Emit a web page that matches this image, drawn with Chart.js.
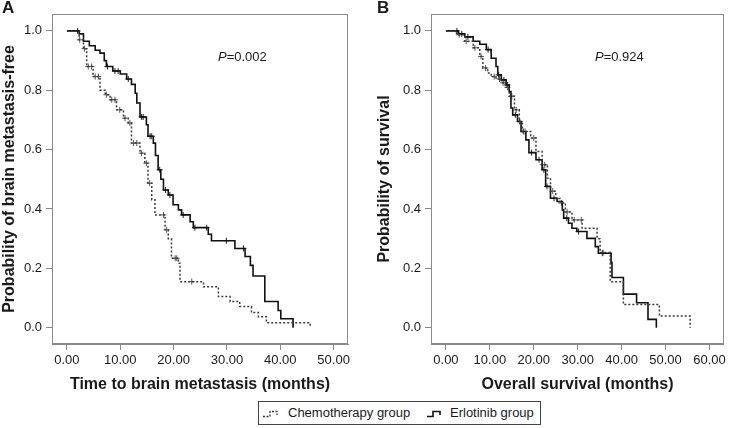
<!DOCTYPE html>
<html>
<head>
<meta charset="utf-8">
<script src="https://cdn.jsdelivr.net/npm/chart.js@4.4.1/dist/chart.umd.min.js"></script>
<style>
body { margin: 0; background: #fff; font-family: 'Liberation Sans', Arial, sans-serif; color: #1a1a1a; }
#wrap { position: relative; width: 729px; height: 428px; overflow: hidden; }
canvas { position: absolute; top: 0; }
.lbl { position: absolute; top: -1px; font-weight: bold; font-size: 17px; line-height: 17px; }
.pval { position: absolute; top: 50px; font-size: 13px; line-height: 14px; }
#legend { position: absolute; left: 258px; top: 401px; width: 281px; height: 22px; border: 1px solid #444;
  font-size: 13px; line-height: 22px; white-space: nowrap; }
#legend span.item { position: absolute; top: 0; }
#legend svg { vertical-align: middle; margin-right: 6px; }
</style>
</head>
<body>
<div id="wrap">
  <canvas id="chartA" width="360" height="394" style="left:0;width:360px;height:394px"></canvas>
  <canvas id="chartB" width="354" height="394" style="left:375px;width:354px;height:394px"></canvas>
  <div class="lbl" style="left:2px">A</div>
  <div class="lbl" style="left:377px">B</div>
  <div class="pval" style="left:218px"><i>P</i>=0.002</div>
  <div class="pval" style="left:595px"><i>P</i>=0.924</div>
  <div id="legend">
    <span class="item" style="left:3px"><svg width="20" height="8"><path d="M1 6.5 H8 V1.5 H15 V5" stroke="#333" stroke-width="1.3" stroke-dasharray="2,1.5" fill="none"/></svg>Chemotherapy group</span>
    <span class="item" style="left:167px"><svg width="18" height="8"><path d="M1 6.5 H7 V1.5 H14 V5" stroke="#111" stroke-width="1.6" fill="none"/></svg>Erlotinib group</span>
  </div>
</div>
<script>
// axis ticks
const yTicks = [0, 0.2, 0.4, 0.6, 0.8, 1.0];
const xTicksA = [0, 10, 20, 30, 40, 50];
const xTicksB = [0, 10, 20, 30, 40, 50, 60];
const seriesNames = ['Chemotherapy group', 'Erlotinib group'];

// Panel A - time to brain metastasis (step times and survival after each step)
const chemoA_t = [0, 2.3, 3.1, 3.7, 4.9, 6.2, 7.2, 8.1, 9.3, 10.6, 11.5, 12.1, 13.7, 14.6, 15.2, 15.9, 16.5, 18.4, 19.0, 19.6, 20.9, 21.2, 25.6, 28.4, 30.6, 32.4, 34.6, 35.9, 37.4, 45.6];
const chemoA_s = [1.0, 0.97, 0.94, 0.88, 0.846, 0.80, 0.785, 0.768, 0.734, 0.706, 0.69, 0.622, 0.588, 0.554, 0.487, 0.431, 0.38, 0.33, 0.30, 0.234, 0.217, 0.155, 0.138, 0.105, 0.088, 0.071, 0.051, 0.037, 0.017, 0.0];
const chemoA_cens = [2.4, 3.3, 4.0, 4.6, 5.3, 5.9, 7.4, 8.4, 9.0, 9.9, 10.9, 11.8, 12.5, 13.1, 14.0, 14.9, 15.5, 18.1, 18.7, 20.3, 20.6, 23.4];
const erloA_t = [0, 2.3, 3.1, 4.2, 5.3, 6.2, 7.0, 7.4, 8.6, 10.0, 11.2, 12.1, 12.8, 13.1, 13.7, 14.9, 15.2, 16.2, 16.6, 17.1, 17.6, 18.1, 19.0, 19.9, 20.9, 21.5, 23.1, 23.7, 26.5, 27.1, 31.5, 33.4, 34.4, 34.9, 37.1, 39.6, 40.1, 42.4];
const erloA_s = [1.0, 0.99, 0.965, 0.95, 0.935, 0.925, 0.90, 0.88, 0.865, 0.855, 0.838, 0.82, 0.79, 0.757, 0.71, 0.684, 0.645, 0.622, 0.58, 0.532, 0.50, 0.464, 0.447, 0.414, 0.397, 0.38, 0.357, 0.337, 0.315, 0.293, 0.267, 0.24, 0.21, 0.174, 0.088, 0.058, 0.03, 0.0];
const erloA_cens = [2.0, 7.6, 9.0, 9.6, 11.5, 14.0, 14.3, 15.6, 15.9, 17.4, 18.5, 19.3, 21.8, 24.0, 26.2, 29.9, 33.1];

// Panel B - overall survival
const chemoB_t = [0, 2.4, 4.3, 6.2, 7.7, 8.4, 9.5, 10.3, 11.4, 12.6, 13.5, 14.4, 15.6, 16.7, 17.4, 19.3, 20.5, 21.9, 23.1, 23.8, 25.0, 26.0, 27.2, 28.7, 31.0, 34.4, 35.1, 37.4, 40.4, 48.6, 55.6];
const chemoB_s = [1.0, 0.987, 0.965, 0.943, 0.914, 0.875, 0.858, 0.846, 0.838, 0.825, 0.81, 0.78, 0.734, 0.695, 0.661, 0.639, 0.594, 0.549, 0.504, 0.46, 0.435, 0.42, 0.39, 0.363, 0.335, 0.30, 0.253, 0.155, 0.078, 0.039, 0.0];
const chemoB_cens = [3.0, 4.6, 6.6, 8.0, 9.0, 11.0, 12.2, 13.0, 14.0, 15.0, 16.0, 18.0, 20.0, 22.0, 22.5, 24.3, 26.3, 27.6, 29.2, 30.8, 35.8];
const erloB_t = [0, 2.8, 4.3, 6.2, 7.7, 9.2, 10.3, 11.4, 11.8, 12.6, 13.7, 14.4, 14.8, 15.2, 16.3, 17.1, 18.2, 18.9, 20.5, 21.9, 22.7, 23.8, 25.3, 26.5, 26.8, 27.9, 28.7, 29.8, 32.1, 34.0, 34.7, 37.6, 37.8, 40.4, 43.4, 46.0, 47.9];
const erloB_s = [1.0, 0.99, 0.98, 0.965, 0.955, 0.937, 0.908, 0.88, 0.852, 0.835, 0.818, 0.796, 0.74, 0.717, 0.695, 0.661, 0.633, 0.59, 0.566, 0.532, 0.476, 0.436, 0.425, 0.397, 0.369, 0.352, 0.335, 0.324, 0.301, 0.273, 0.251, 0.22, 0.169, 0.113, 0.084, 0.028, 0.0];
const erloB_cens = [2.5, 3.6, 5.0, 9.6, 12.0, 13.2, 14.0, 15.8, 16.8, 17.6, 19.5, 21.2, 22.3, 23.0, 24.6, 27.5, 30.2, 35.6];

function stepPoints(t, s) {
  return t.map((x, i) => ({ x: x, y: s[i] }));
}
function censorPoints(t, s, cens) {
  return cens.map(c => {
    let v = s[0];
    for (let i = 0; i < t.length; i++) if (t[i] <= c) v = s[i];
    return { x: c, y: v };
  });
}

const framePlugin = {
  id: 'frame',
  afterDraw(chart) {
    const { ctx, chartArea: a } = chart;
    ctx.save();
    ctx.strokeStyle = '#8a8a8a';
    ctx.lineWidth = 1;
    ctx.strokeRect(Math.round(a.left) + 0.5, Math.round(a.top) + 0.5,
      Math.round(a.right - a.left) - 1, Math.round(a.bottom - a.top) - 1);
    ctx.restore();
  }
};

function makeChart(id, o) {
  const font = { family: "'Liberation Sans', Arial, sans-serif", size: 13 };
  return new Chart(document.getElementById(id), {
    type: 'line',
    data: {
      datasets: [
        { label: seriesNames[0], data: stepPoints(o.chemoT, o.chemoS), stepped: 'before',
          borderColor: '#3a3a3a', borderWidth: 1.5, borderDash: [2, 2], pointRadius: 0, fill: false },
        { label: seriesNames[1], data: stepPoints(o.erloT, o.erloS), stepped: 'before',
          borderColor: '#111', borderWidth: 1.6, pointRadius: 0, fill: false },
        { label: seriesNames[0] + ' censored', data: censorPoints(o.chemoT, o.chemoS, o.chemoC), showLine: false,
          pointStyle: 'cross', pointRadius: 3, pointBorderColor: '#555', pointBorderWidth: 1 },
        { label: seriesNames[1] + ' censored', data: censorPoints(o.erloT, o.erloS, o.erloC), showLine: false,
          pointStyle: 'cross', pointRadius: 3, pointBorderColor: '#222', pointBorderWidth: 1 }
      ]
    },
    options: {
      responsive: false,
      animation: false,
      events: [],
      layout: { padding: { top: 14, right: o.padRight, left: 0, bottom: 0 } },
      plugins: { legend: { display: false }, tooltip: { enabled: false } },
      scales: {
        x: {
          type: 'linear', min: o.xMin, max: o.xMax,
          afterBuildTicks: s => { s.ticks = o.xTicks.map(v => ({ value: v })); },
          afterFit: s => { s.height = 50; },
          grid: { drawOnChartArea: false, drawTicks: true, tickLength: 6, color: '#8a8a8a' },
          border: { display: true, color: '#8a8a8a' },
          ticks: { font: font, color: '#1a1a1a', padding: 3, maxRotation: 0, callback: v => Number(v).toFixed(2) },
          title: { display: true, text: o.xTitle, color: '#1a1a1a', padding: { top: 0, bottom: 0 },
            font: { family: font.family, size: 16, weight: 'bold' } }
        },
        y: {
          type: 'linear', min: -0.055, max: 1.057,
          afterBuildTicks: s => { s.ticks = yTicks.map(v => ({ value: v })); },
          afterFit: s => { s.width = o.yWidth; },
          grid: { drawOnChartArea: false, drawTicks: true, tickLength: 6, color: '#8a8a8a' },
          border: { display: true, color: '#8a8a8a' },
          ticks: { font: font, color: '#1a1a1a', padding: 4, callback: v => Number(v).toFixed(1) },
          title: { display: true, text: o.yTitle, color: '#1a1a1a', padding: { top: 0, bottom: 0 },
            font: { family: font.family, size: 16, weight: 'bold' } }
        }
      }
    },
    plugins: [framePlugin]
  });
}

makeChart('chartA', {
  chemoT: chemoA_t, chemoS: chemoA_s, chemoC: chemoA_cens,
  erloT: erloA_t, erloS: erloA_s, erloC: erloA_cens,
  xMin: -2.8, xMax: 52.7, xTicks: xTicksA, yWidth: 52, padRight: 12,
  xTitle: 'Time to brain metastasis (months)', yTitle: 'Probability of brain metastasis-free'
});
makeChart('chartB', {
  chemoT: chemoB_t, chemoS: chemoB_s, chemoC: chemoB_cens,
  erloT: erloB_t, erloS: erloB_s, erloC: erloB_cens,
  xMin: -3.4, xMax: 63.3, xTicks: xTicksB, yWidth: 56, padRight: 2,
  xTitle: 'Overall survival (months)', yTitle: 'Probability of survival'
});
</script>
</body>
</html>
